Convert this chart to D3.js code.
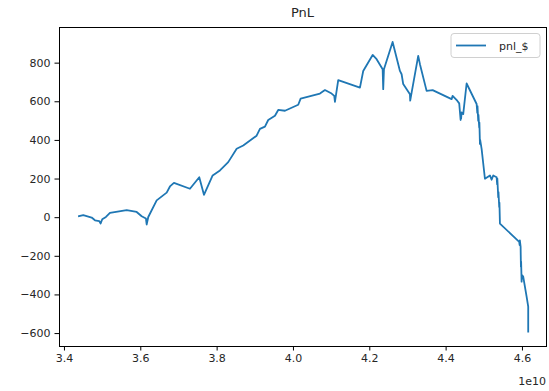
<!DOCTYPE html>
<html>
<head>
<meta charset="utf-8">
<script src="https://cdn.jsdelivr.net/npm/d3@7"></script>
<style>
  html, body { margin: 0; padding: 0; background: #fff; }
  svg { display: block; font-family: "DejaVu Sans", sans-serif; }
</style>
</head>
<body>
<svg id="chart" width="549" height="391"></svg>
<script>
// ---- data (x in units of 1e10, y in $) ----
const title = "PnL";
const seriesName = "pnl_$";
const xValues = [
  3.4393, 3.4506, 3.4726, 3.4812, 3.4925, 3.4961, 3.5003, 3.5100, 3.5205, 3.5643,
  3.5905, 3.6036, 3.6148, 3.6167, 3.6209, 3.6429, 3.6691, 3.6777, 3.6882, 3.7301,
  3.7545, 3.7668, 3.7896, 3.8087, 3.8304, 3.8525, 3.8697, 3.9048, 3.9135, 3.9266,
  3.9352, 3.9528, 3.9614, 3.9790, 4.0138, 4.0201, 4.0707, 4.0838, 4.1013, 4.1082,
  4.1100, 4.1186, 4.1755, 4.1841, 4.2088, 4.2192, 4.2350, 4.2365, 4.2384, 4.2611,
  4.2803, 4.2847, 4.2889, 4.3065, 4.3072, 4.3109, 4.3282, 4.3327, 4.3502, 4.3660,
  4.4157, 4.4183, 4.4304, 4.4356, 4.4393, 4.4400, 4.4405, 4.4419, 4.4461, 4.4550,
  4.4812, 4.4830, 4.4835, 4.4854, 4.4860, 4.4880, 4.4885, 4.4899, 4.4905, 4.4943,
  4.5030, 4.5161, 4.5205, 4.5247, 4.5336, 4.5350, 4.5355, 4.5378, 4.5385, 4.5404,
  4.5410, 4.5423, 4.5928, 4.5940, 4.5945, 4.5965, 4.5973, 4.5978, 4.5991, 4.6000,
  4.6033, 4.6122, 4.6164, 4.6164
];
const pnlValues = [
  5, 10, -2, -16, -20, -33, -11, 1, 22, 36,
  27, 5, -7, -38, 1, 87, 127, 159, 178, 147,
  207, 116, 216, 242, 285, 354, 371, 422, 457, 469,
  503, 525, 555, 551, 582, 614, 640, 658, 640, 628,
  597, 709, 671, 757, 840, 818, 766, 663, 766, 907,
  757, 740, 689, 637, 603, 645, 835, 792, 654, 658,
  611, 628, 603, 589, 503, 540, 510, 542, 534, 692,
  586, 540, 575, 499, 530, 465, 490, 379, 400, 354,
  199, 216, 194, 216, 207, 170, 200, 104, 130, 53,
  75, -33, -128, -145, -120, -154, -257, -230, -334, -300,
  -308, -411, -463, -592
];
const xTicks = [3.4, 3.6, 3.8, 4.0, 4.2, 4.4, 4.6];
const xTickLabels = ["3.4", "3.6", "3.8", "4.0", "4.2", "4.4", "4.6"];
const yTicks = [-600, -400, -200, 0, 200, 400, 600, 800];
const yTickLabels = ["\u2212600", "\u2212400", "\u2212200", "0", "200", "400", "600", "800"];
const xOffsetLabel = "1e10";

// ---- layout ----
const W = 549, H = 391;
const m = { left: 59, right: 3, top: 27.5, bottom: 45 };
const iw = W - m.left - m.right, ih = H - m.top - m.bottom;
const lineColor = "#1f77b4";
const textColor = "#262626";
const fontSize = 11;

const data = xValues.map((x, i) => ({ x, y: pnlValues[i] }));

// matplotlib-style 5% margins
const xe = d3.extent(xValues), ye = d3.extent(pnlValues);
const xp = (xe[1] - xe[0]) * 0.05, yp = (ye[1] - ye[0]) * 0.05;
const x = d3.scaleLinear().domain([3.387, 4.663]).range([0, iw]);
const y = d3.scaleLinear().domain([ye[0] - yp, ye[1] + yp]).range([ih, 0]);

const svg = d3.select("#chart");
svg.append("rect").attr("width", W).attr("height", H).attr("fill", "#fff");

const g = svg.append("g").attr("transform", `translate(${m.left},${m.top})`);

// clip
svg.append("defs").append("clipPath").attr("id", "clip")
  .append("rect").attr("width", iw).attr("height", ih);

// line
const line = d3.line().x(d => x(d.x)).y(d => y(d.y));
g.append("path").datum(data)
  .attr("clip-path", "url(#clip)")
  .attr("fill", "none")
  .attr("stroke", lineColor)
  .attr("stroke-width", 1.8)
  .attr("stroke-linejoin", "round")
  .attr("stroke-linecap", "square")
  .attr("d", line);

// axes
const xAxis = d3.axisBottom(x).tickValues(xTicks)
  .tickFormat((d, i) => xTickLabels[i]).tickSize(4.5).tickPadding(4).tickSizeOuter(0);
const yAxis = d3.axisLeft(y).tickValues(yTicks)
  .tickFormat((d, i) => yTickLabels[i]).tickSize(4.5).tickPadding(4).tickSizeOuter(0);

const gx = g.append("g").attr("transform", `translate(0,${ih})`).call(xAxis);
const gy = g.append("g").call(yAxis);
[gx, gy].forEach(a => {
  a.select(".domain").remove();
  a.selectAll(".tick line").attr("stroke", "#000").attr("stroke-width", 1);
  a.selectAll(".tick text").attr("fill", textColor)
    .attr("font-size", fontSize).attr("font-family", "DejaVu Sans, sans-serif");
});

// spines
g.append("rect").attr("x", 0).attr("y", 0).attr("width", iw).attr("height", ih)
  .attr("fill", "none").attr("stroke", "#000").attr("stroke-width", 1)
  .attr("shape-rendering", "crispEdges");

// offset label
g.append("text").attr("x", iw).attr("y", ih + 39)
  .attr("text-anchor", "end").attr("font-size", fontSize).attr("fill", textColor)
  .text(xOffsetLabel);

// title
svg.append("text").attr("x", m.left + iw / 2).attr("y", 17)
  .attr("text-anchor", "middle").attr("font-size", 13).attr("fill", textColor)
  .text(title);

// legend
const lg = g.append("g").attr("transform", `translate(${iw - 95},6)`);
lg.append("rect").attr("width", 89).attr("height", 24).attr("rx", 3)
  .attr("fill", "#fff").attr("fill-opacity", 0.8)
  .attr("stroke", "#d0d0d0").attr("stroke-width", 1);
lg.append("line").attr("x1", 5).attr("x2", 35).attr("y1", 12).attr("y2", 12)
  .attr("stroke", lineColor).attr("stroke-width", 1.8);
lg.append("text").attr("x", 48).attr("y", 16)
  .attr("font-size", fontSize).attr("fill", textColor).text(seriesName);
</script>
</body>
</html>
